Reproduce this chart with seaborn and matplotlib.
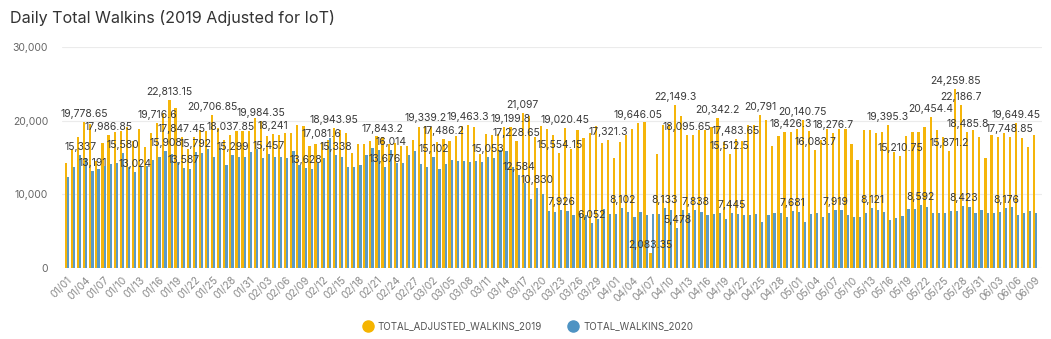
import numpy as np
import pandas as pd
import matplotlib
matplotlib.use("Agg")
import matplotlib.pyplot as plt
import seaborn as sns
from matplotlib.lines import Line2D

# ---------------- data ----------------
dates = pd.date_range("2019-01-01", "2019-06-09").strftime("%m/%d").tolist()

walkins_2019 = [
    14200, 16200, 17800, 19778.65, 19600, 14500, 17000, 17986.85, 18500, 18600,
    19100, 17300, 18900, 16400, 18300, 19716.6, 21000, 22813.15, 21700, 17847.45,
    16200, 17800, 18700, 18600, 20706.85, 19000, 17400, 18037.85, 18600, 18600,
    18600, 20400, 19984.35, 17900, 18241, 18000, 18300, 18300, 19400, 19300,
    16500, 16800, 17081.6, 17400, 18943.95, 18700, 18300, 15600, 16800, 16900,
    17200, 17900, 17843.2, 16800, 17000, 16500, 16500, 17400, 19200, 19339.2,
    19100, 17100, 17486.2, 17300, 17900, 19300, 19463.3, 19100, 15500, 18200,
    18000, 18200, 19200, 19199.8, 17228.65, 21097, 20600, 17800, 19300, 18900,
    18000, 15554.15, 19020.45, 16200, 18700, 17700, 18300, 19300, 17000, 17321.3,
    14900, 17100, 18000, 18900, 19646.05, 19800, 2083.35, 15500, 19400, 19600,
    22149.3, 20700, 18095.65, 18000, 18700, 18700, 19200, 20342.2, 17100, 15512.5,
    17483.65, 17300, 19400, 19400, 20791, 20100, 16500, 17900, 18500, 18426.3,
    18900, 20140.75, 18600, 16083.7, 17400, 18900, 18276.7, 18900, 18900, 16900,
    14600, 18700, 18700, 18300, 18500, 19395.3, 15800, 15210.75, 17900, 18500,
    18500, 19200, 20454.4, 18800, 17800, 15871.2, 24259.85, 22186.7, 18485.8, 18700,
    17800, 15000, 18000, 17800, 18300, 17748.85, 19649.45, 17600, 16400, 18000,
]

walkins_2020 = [
    12300, 13700, 15337, 14900, 13191, 13400, 13800, 14100, 14200, 15580,
    13700, 13024, 13800, 13800, 14600, 15100, 15908, 15500, 14400, 13587,
    13500, 15792, 15600, 16200, 15100, 16300, 14000, 15299, 15100, 15100,
    15800, 16200, 15000, 15457, 15100, 15100, 15000, 15900, 14000, 13628,
    13500, 14200, 14900, 17700, 15338, 15100, 13650, 13650, 14000, 15300,
    16300, 16000, 13676, 16014, 14200, 14200, 15300, 15900, 14100, 13650,
    15102, 13500, 14100, 14700, 14500, 14500, 14400, 14500, 14400, 15053,
    14900, 16000, 15900, 13700, 12584, 11600, 9400, 10830, 10000, 7700,
    7600, 7926, 7700, 7200, 7500, 7200, 6052, 6600, 7950, 7300,
    7300, 8102, 7650, 6950, 7650, 7200, 7300, 7300, 8133, 7900,
    5478, 7900, 7500, 7838, 7600, 7200, 7300, 7500, 6600, 7445,
    7320, 7190, 7190, 7320, 6280, 7190, 7500, 7400, 6960, 7681,
    7640, 6280, 7320, 7500, 6960, 7400, 7919, 7860, 7190, 6960,
    6960, 7400, 8121, 7900, 7600, 6500, 6800, 7100, 8000, 8000,
    8592, 8300, 7500, 7500, 7500, 7700, 7800, 8423, 8300, 7500,
    7900, 7500, 7500, 7600, 8176, 8300, 7200, 7500, 7800, 7400,
]

labeled_2019 = [3, 7, 15, 17, 19, 24, 27, 32, 34, 42, 44, 52, 59, 62, 66, 73, 74, 75,
                81, 82, 89, 94, 96, 100, 102, 107, 109, 110, 114, 119, 121, 123, 126,
                135, 137, 142, 145, 146, 147, 148, 155, 156]
labeled_2020 = [2, 4, 9, 11, 16, 19, 21, 27, 33, 39, 44, 52, 53, 60, 69, 74, 77, 81,
                86, 91, 98, 100, 103, 109, 119, 126, 132, 140, 147, 154]

series_names = ["TOTAL_ADJUSTED_WALKINS_2019", "TOTAL_WALKINS_2020"]
colors = ["#F5B50A", "#5A9AC6"]

df = pd.DataFrame({
    "day": dates * 2,
    "value": walkins_2019 + walkins_2020,
    "series": [series_names[0]] * len(dates) + [series_names[1]] * len(dates),
})

# ---------------- style ----------------
sns.set_theme(style="white")
plt.rcParams["font.family"] = ["Inter", "DejaVu Sans"]

W, H = 1051, 339
fig = plt.figure(figsize=(W / 100, H / 100), dpi=100)
ax = fig.add_axes([62 / W, 1 - 268 / H, 980 / W, 221 / H])

sns.barplot(data=df, x="day", y="value", hue="series", order=dates,
            hue_order=series_names, palette=colors, width=0.72, gap=0,
            saturation=1, linewidth=0, legend=False, ax=ax)

ax.set_xlim(-0.82, 160.1)
ax.set_ylim(0, 30000)

ticks = list(range(0, len(dates), 3))
ax.set_xticks(ticks)
ax.set_xticklabels([dates[i] for i in ticks], rotation=45, ha="right",
                   rotation_mode="anchor", fontsize=7.5, color="#8a8a8a")
ax.tick_params(axis="x", length=0, pad=5)

yt = [0, 10000, 20000, 30000]
ax.set_yticks(yt)
ax.set_yticklabels([f"{v:,}" for v in yt], fontsize=7.5, color="#666666")
ax.tick_params(axis="y", length=0, pad=10)

ax.yaxis.grid(True, color="#ebebeb", linewidth=0.8)
ax.set_axisbelow(True)
sns.despine(ax=ax, left=True, bottom=True)
ax.set_xlabel("")
ax.set_ylabel("")


def fmt(v):
    s = f"{v:,.2f}".rstrip("0").rstrip(".")
    return s


for i in labeled_2019:
    v = walkins_2019[i]
    ax.annotate(fmt(v), (i - 0.18, v), xytext=(0, 8), textcoords="offset pixels",
                ha="center", va="center", fontsize=7.5, color="#3a3a3a")
for i in labeled_2020:
    v = walkins_2020[i]
    ax.annotate(fmt(v), (i + 0.18, v), xytext=(0, 8), textcoords="offset pixels",
                ha="center", va="center", fontsize=7.5, color="#3a3a3a")

fig.text(10 / W, 1 - 18 / H, "Daily Total Walkins (2019 Adjusted for IoT)",
         fontsize=11.6, color="#333333", ha="left", va="center")

handles = [Line2D([0], [0], marker="o", linestyle="", markersize=8,
                  markerfacecolor=c, markeredgecolor=c) for c in ["#F5B400", "#4E93C3"]]
fig.legend(handles, series_names, loc="center", bbox_to_anchor=(0.502, 1 - 326 / H),
           ncol=2, frameon=False, fontsize=7, labelcolor="#555555",
           handletextpad=0.4, columnspacing=2.6, handlelength=1.2)

fig.savefig("out.png", dpi=100)
